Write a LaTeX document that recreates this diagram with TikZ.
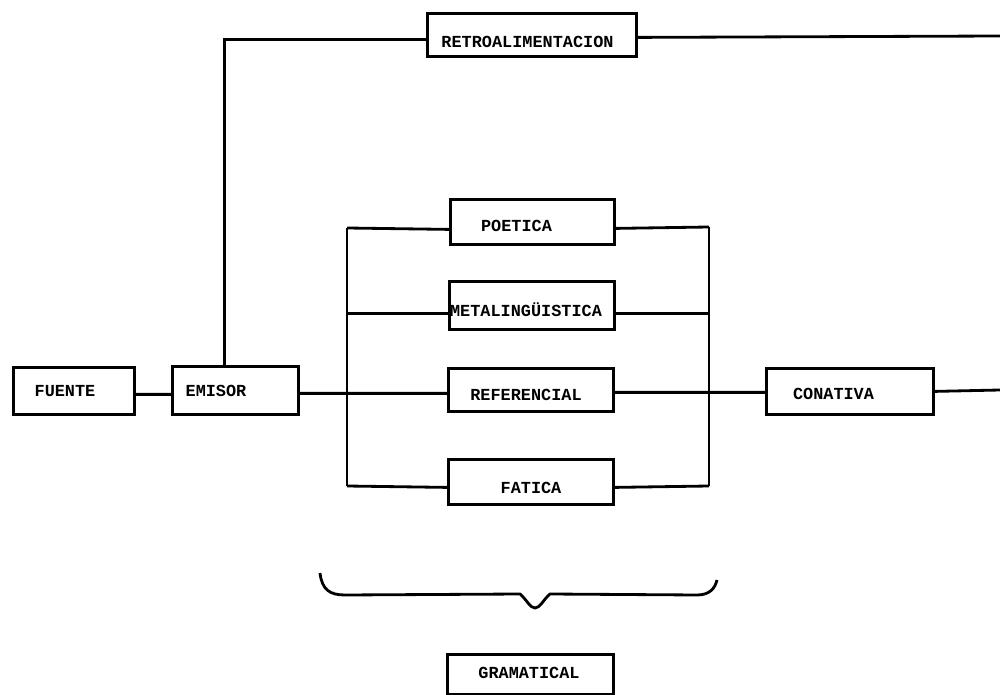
\documentclass[tikz,border=0pt]{standalone}
\usepackage{fontspec}
\newfontfamily\diagfont{Liberation Mono}
\usetikzlibrary{calc}
\begin{document}
\begin{tikzpicture}[x=0.02cm,y=-0.02cm,
  line width=1.6pt,
  bx/.style 2 args={draw, rectangle, inner sep=0pt, anchor=north west,
    minimum width=#1*0.02cm, minimum height=#2*0.02cm},
  lbl/.style={inner sep=0pt, anchor=base,
    font=\diagfont\bfseries\fontsize{9.6}{11}\selectfont}]
\useasboundingbox (0,0) rectangle (1000,695);
% boxes
\node[bx={121}{47}] (fuente) at (12,366) {};
\node[bx={126}{48}] (emisor) at (171,365) {};
\node[bx={209}{43}] (retro) at (426,12) {};
\node[bx={164}{45}] (poetica) at (449,198) {};
\node[bx={165}{48}] (meta) at (448,280) {};
\node[bx={165}{43}] (referencial) at (447,367) {};
\node[bx={165}{45}] (fatica) at (447,458) {};
\node[bx={167}{46}] (conativa) at (765,367) {};
\node[bx={166}{40}] (gramatical) at (446,653) {};
% labels
\node[lbl] (tfuente) at (65,397) {FUENTE};
\node[lbl] (temisor) at (216,397) {EMISOR};
\node[lbl] (tretro) at (527.5,48) {RETROALIMENTACION};
\node[lbl] (tpoetica) at (516.5,232) {POETICA};
\node[lbl] (tmeta) at (526,317) {METALINGÜISTICA};
\node[lbl] (treferencial) at (526,400) {REFERENCIAL};
\node[lbl] (tfatica) at (531,493) {FATICA};
\node[lbl] (tconativa) at (833.5,399) {CONATIVA};
\node[lbl] (tgramatical) at (529,678) {GRAMATICAL};
% bus coordinates and free ends
\coordinate (lt) at (347,228);
\coordinate (lb) at (347,486);
\coordinate (rt) at (709,227);
\coordinate (rb) at (709,486);
\coordinate (endC) at (1000,390);
\coordinate (endR) at (1000,36);
% connectors
\draw ($(fuente.east)+(0,3.5)$) -- ($(emisor.west)+(0,4)$);
\draw ($(emisor.east)+(0,3)$) -- ($(referencial.west)+(0,3.5)$);
\draw ($(referencial.east)+(0,2.5)$) -- ($(conativa.west)+(0,1)$);
\draw (conativa.east) -- (endC);
\draw (lt) -- (lb);
\draw (rt) -- (rb);
\draw (lt) -- ($(poetica.west)+(0,7.5)$);
\draw ($(poetica.east)+(0,6.5)$) -- (rt);
\draw ($(meta.west)+(0,8)$) coordinate (mw) -- (mw -| lt);
\draw ($(meta.east)+(0,8)$) coordinate (me) -- (me -| rt);
\draw (lb) -- ($(fatica.west)+(0,5.5)$);
\draw ($(fatica.east)+(0,5.5)$) -- (rb);
\draw ($(emisor.north)+(-11,0)$) |- ($(retro.west)+(0,4.5)$);
\draw ($(retro.east)+(0,2.5)$) -- (endR);
% brace
\draw (320,573) .. controls (322,590) and (330,595) .. (345,595)
  -- (520,594) .. controls (527,600) and (530,608) .. (535,608)
  .. controls (540,608) and (543,600) .. (550,594)
  -- (697,595) .. controls (710,595) and (715,588) .. (717,580);
\end{tikzpicture}
\end{document}
